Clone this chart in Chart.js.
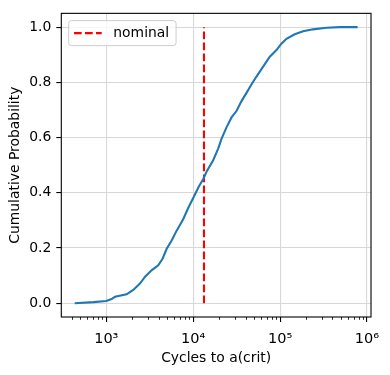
<!DOCTYPE html>
<html>
<head>
<meta charset="utf-8">
<script src="https://cdn.jsdelivr.net/npm/chart.js@4/dist/chart.umd.min.js"></script>
<style>
  html, body { margin: 0; padding: 0; background: #fff; }
</style>
</head>
<body>
<canvas id="cdfChart" width="390" height="375"></canvas>
<script>
const cycles = [433, 710, 1000, 1151, 1258, 1713, 2043, 2437, 2781, 3318, 3960, 4443, 4937, 5630, 6425, 7670,
    8763, 10000, 11620, 13150, 14230, 16980, 19380, 21170, 24170, 27600, 31490, 35970, 41040, 46800,
    53460, 63800, 76100, 90800, 103600, 118300, 147500, 184000, 239000, 341000, 486000, 780000];
const cumProb = [0, 0.004, 0.008, 0.015, 0.023, 0.032, 0.048, 0.071, 0.095, 0.119, 0.137, 0.161, 0.196, 0.226, 0.262, 0.304,
    0.345, 0.381, 0.423, 0.452, 0.476, 0.518, 0.56, 0.595, 0.637, 0.673, 0.696, 0.732, 0.762, 0.792,
    0.821, 0.857, 0.893, 0.917, 0.94, 0.958, 0.974, 0.985, 0.992, 0.998, 1.0, 1.0];

const nominalCycles = 13300;
const nominalProb = [0, 1];

const xMajorTicks = [1e3, 1e4, 1e5, 1e6];
const xTickLabels = ["10³", "10⁴", "10⁵", "10⁶"];
const xMinorTicks = [400, 500, 600, 700, 800, 900,
    2e3, 3e3, 4e3, 5e3, 6e3, 7e3, 8e3, 9e3,
    2e4, 3e4, 4e4, 5e4, 6e4, 7e4, 8e4, 9e4,
    2e5, 3e5, 4e5, 5e5, 6e5, 7e5, 8e5, 9e5];
const yTicks = [0, 0.2, 0.4, 0.6, 0.8, 1.0];
const yTickLabels = ["0.0", "0.2", "0.4", "0.6", "0.8", "1.0"];

const FONT = "'DejaVu Sans', sans-serif";
Chart.defaults.font.family = FONT;
Chart.defaults.font.size = 13.9;
Chart.defaults.color = "#000";

// frame, minor ticks and the in-axes legend, like matplotlib draws them
const axesExtras = {
    id: "axesExtras",
    afterDatasetsDraw(chart) {
        const { ctx, chartArea: a, scales } = chart;
        ctx.save();

        ctx.strokeStyle = "#000";
        ctx.lineWidth = 0.83;
        xMinorTicks.forEach(v => {
            const px = Math.round(scales.x.getPixelForValue(v)) + 0.5;
            ctx.beginPath();
            ctx.moveTo(px, a.bottom);
            ctx.lineTo(px, a.bottom + 2.8);
            ctx.stroke();
        });

        ctx.lineWidth = 1.1;
        ctx.strokeRect(a.left, a.top, a.right - a.left, a.bottom - a.top);

        // legend
        ctx.font = "13.9px " + FONT;
        const label = chart.data.datasets[1].label;
        const tw = ctx.measureText(label).width;
        const bx = a.left + 7.4, by = a.top + 7.3;
        const bw = 44.6 + tw + 6.9, bh = 25;
        ctx.beginPath();
        ctx.roundRect(bx, by, bw, bh, 2.8);
        ctx.fillStyle = "rgba(255,255,255,0.8)";
        ctx.fill();
        ctx.strokeStyle = "#cccccc";
        ctx.lineWidth = 1;
        ctx.stroke();

        const cy = by + bh / 2;
        ctx.strokeStyle = "red";
        ctx.lineWidth = 2.08;
        ctx.setLineDash([7.7, 3.3]);
        ctx.beginPath();
        ctx.moveTo(bx + 5.3, cy);
        ctx.lineTo(bx + 33, cy);
        ctx.stroke();
        ctx.setLineDash([]);

        ctx.fillStyle = "#000";
        ctx.textAlign = "left";
        ctx.textBaseline = "middle";
        ctx.fillText(label, bx + 44.6, cy);
        ctx.restore();
    }
};

const ctx1 = document.getElementById("cdfChart").getContext("2d");
const cdfChart = new Chart(ctx1, {
    type: "scatter",
    data: {
        datasets: [{
            label: "cdf",
            data: cycles.map((c, i) => ({ x: c, y: cumProb[i] })),
            showLine: true,
            borderColor: "#1f77b4",
            borderWidth: 2.08,
            pointRadius: 0,
            tension: 0
        }, {
            label: "nominal",
            data: nominalProb.map(p => ({ x: nominalCycles, y: p })),
            showLine: true,
            borderColor: "red",
            borderWidth: 2.08,
            borderDash: [7.7, 3.3],
            pointRadius: 0
        }]
    },
    options: {
        responsive: false,
        animation: false,
        layout: { padding: { left: 0, right: 19, top: 9, bottom: 0 } },
        plugins: {
            legend: { display: false },
            tooltip: { enabled: false }
        },
        scales: {
            x: {
                type: "logarithmic",
                min: 303.5,
                max: 1.112e6,
                afterFit: s => { s.height = 58; },
                afterBuildTicks: s => { s.ticks = xMajorTicks.map(v => ({ value: v })); },
                ticks: {
                    padding: 9,
                    maxRotation: 0,
                    autoSkip: false,
                    font: { size: 14.5 },
                    callback: (v, i) => xTickLabels[i]
                },
                grid: {
                    color: "#d8d8d8",
                    lineWidth: 1.1,
                    tickColor: "#000",
                    tickWidth: 1.1,
                    tickLength: 5
                },
                border: { display: false },
                title: {
                    display: true,
                    text: "Cycles to a(crit)",
                    padding: { top: 0, bottom: 8 }
                }
            },
            y: {
                min: -0.05,
                max: 1.05,
                afterFit: s => { s.width = 61.3; },
                afterBuildTicks: s => { s.ticks = yTicks.map(v => ({ value: v })); },
                ticks: {
                    padding: 5,
                    callback: (v, i) => yTickLabels[i]
                },
                grid: {
                    color: "#d8d8d8",
                    lineWidth: 1.1,
                    tickColor: "#000",
                    tickWidth: 1.1,
                    tickLength: 5
                },
                border: { display: false },
                title: {
                    display: true,
                    text: "Cumulative Probability",
                    padding: { top: 7, bottom: 0 }
                }
            }
        }
    },
    plugins: [axesExtras]
});
</script>
</body>
</html>
